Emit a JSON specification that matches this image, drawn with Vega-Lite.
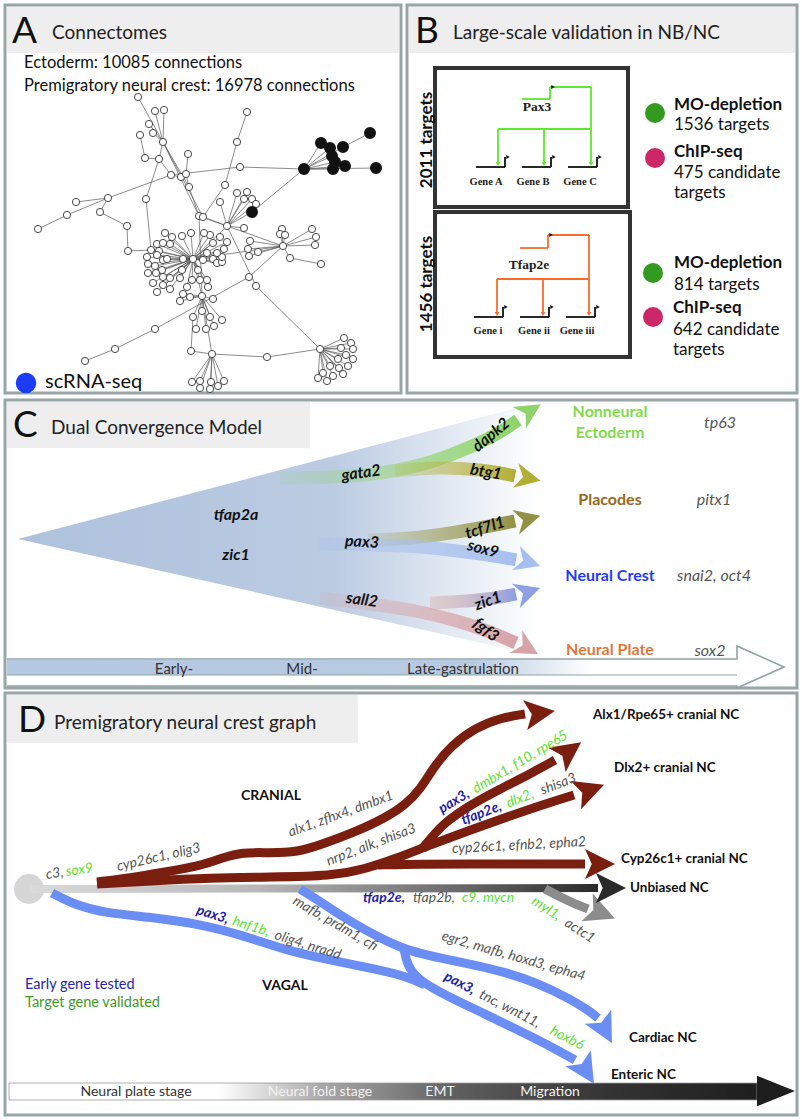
{
"$schema": "https://vega.github.io/schema/vega-lite/v6.json",
"width": 802, "height": 1120,
"autosize": {"type": "fit", "contains": "padding"},
"padding": 0,
"background": "white",
"config": {"view": {"stroke": null}, "text": {"font": "Lato"}},
"datasets": {
"panels": [{"x":5,"x2":401,"y":5,"y2":393},{"x":407,"x2":797,"y":5,"y2":393},{"x":5,"x2":797,"y":400,"y2":688},{"x":5,"x2":797,"y":693,"y2":1115}],
"bands": [{"x":7,"x2":399,"y":7,"y2":53},{"x":409,"x2":795,"y":7,"y2":53},{"x":7,"x2":310,"y":402,"y2":448},{"x":7,"x2":358,"y":695,"y2":743}],
"letters": [{"x":12,"y":43,"t":"A"},{"x":415,"y":43,"t":"B"},{"x":13,"y":437,"t":"C"},{"x":18,"y":732,"t":"D"}],
"titles": [{"x":52,"y":39,"t":"Connectomes"},{"x":453,"y":39,"t":"Large-scale validation in NB/NC"},{"x":51,"y":434,"t":"Dual Convergence Model"},{"x":54,"y":729,"t":"Premigratory neural crest graph"}],
"atext": [{"x":24,"y":68,"t":"Ectoderm: 10085 connections"},{"x":24,"y":91,"t":"Premigratory neural crest: 16978 connections"}],
"edges": [
{"x":138,"y":97,"x2":163,"y2":142},{"x":155,"y":111,"x2":163,"y2":142},{"x":164,"y":110,"x2":163,"y2":142},{"x":149,"y":124,"x2":163,"y2":142},{"x":153,"y":133,"x2":163,"y2":142},
{"x":140,"y":135,"x2":145,"y2":158},{"x":145,"y":158,"x2":159,"y2":159},{"x":159,"y":159,"x2":163,"y2":142},{"x":159,"y":159,"x2":171,"y2":175},
{"x":163,"y":142,"x2":199,"y2":216},{"x":163,"y":142,"x2":189,"y2":187},{"x":163,"y":142,"x2":203,"y2":217},
{"x":171,"y":175,"x2":181,"y2":177},{"x":181,"y":177,"x2":186,"y2":174},{"x":188,"y":154,"x2":186,"y2":174},{"x":186,"y":174,"x2":189,"y2":187},{"x":189,"y":187,"x2":199,"y2":216},
{"x":108,"y":198,"x2":171,"y2":175},{"x":67,"y":215,"x2":108,"y2":198},{"x":76,"y":202,"x2":108,"y2":198},{"x":38,"y":229,"x2":67,"y2":215},
{"x":108,"y":198,"x2":100,"y2":212},{"x":100,"y":212,"x2":127,"y2":226},{"x":127,"y":226,"x2":128,"y2":251},{"x":128,"y":251,"x2":151,"y2":250},
{"x":171,"y":175,"x2":240,"y2":167},{"x":240,"y":167,"x2":304,"y2":169},{"x":146,"y":199,"x2":159,"y2":159},{"x":146,"y":199,"x2":151,"y2":250},
{"x":247,"y":112,"x2":237,"y2":142},{"x":237,"y":142,"x2":225,"y2":185},{"x":225,"y":185,"x2":203,"y2":217},
{"x":220,"y":202,"x2":227,"y2":226},{"x":237,"y":193,"x2":227,"y2":226},{"x":247,"y":192,"x2":227,"y2":226},{"x":244,"y":199,"x2":227,"y2":226},{"x":252,"y":199,"x2":227,"y2":226},{"x":256,"y":204,"x2":227,"y2":226},
{"x":199,"y":216,"x2":227,"y2":226},{"x":203,"y":217,"x2":227,"y2":226},{"x":227,"y":226,"x2":244,"y2":228},{"x":227,"y":226,"x2":193,"y2":259},
{"x":227,"y":226,"x2":252,"y2":212},{"x":252,"y":212,"x2":304,"y2":169},{"x":227,"y":226,"x2":283,"y2":246},{"x":193,"y":259,"x2":283,"y2":246},
{"x":283,"y":246,"x2":282,"y2":229},{"x":283,"y":246,"x2":280,"y2":234},{"x":283,"y":246,"x2":285,"y2":235},{"x":283,"y":246,"x2":312,"y2":229},{"x":283,"y":246,"x2":316,"y2":237},{"x":283,"y":246,"x2":315,"y2":245},{"x":283,"y":246,"x2":250,"y2":241},{"x":283,"y":246,"x2":248,"y2":249},{"x":283,"y":246,"x2":249,"y2":256},{"x":283,"y":246,"x2":258,"y2":252},{"x":283,"y":246,"x2":290,"y2":258},
{"x":290,"y":258,"x2":321,"y2":264},{"x":227,"y":226,"x2":256,"y2":286},{"x":256,"y":286,"x2":320,"y2":349},{"x":249,"y":277,"x2":283,"y2":246},{"x":155,"y":329,"x2":249,"y2":277},{"x":115,"y":349,"x2":155,"y2":329},{"x":85,"y":361,"x2":115,"y2":349},
{"x":199,"y":216,"x2":202,"y2":296},{"x":193,"y":259,"x2":202,"y2":296},
{"x":193,"y":259,"x2":165,"y2":233},{"x":193,"y":259,"x2":172,"y2":237},{"x":193,"y":259,"x2":157,"y2":244},{"x":193,"y":259,"x2":163,"y2":243},{"x":193,"y":259,"x2":170,"y2":244},{"x":193,"y":259,"x2":151,"y2":250},{"x":193,"y":259,"x2":159,"y2":251},{"x":193,"y":259,"x2":147,"y2":257},{"x":193,"y":259,"x2":157,"y2":255},{"x":193,"y":259,"x2":163,"y2":260},{"x":193,"y":259,"x2":167,"y2":259},{"x":193,"y":259,"x2":183,"y2":259},{"x":193,"y":259,"x2":148,"y2":264},{"x":193,"y":259,"x2":155,"y2":266},{"x":193,"y":259,"x2":162,"y2":270},{"x":193,"y":259,"x2":148,"y2":273},{"x":193,"y":259,"x2":156,"y2":273},{"x":193,"y":259,"x2":163,"y2":277},{"x":193,"y":259,"x2":170,"y2":278},{"x":193,"y":259,"x2":153,"y2":283},{"x":193,"y":259,"x2":163,"y2":285},{"x":193,"y":259,"x2":157,"y2":292},{"x":193,"y":259,"x2":170,"y2":289},{"x":193,"y":259,"x2":180,"y2":278},{"x":193,"y":259,"x2":182,"y2":270},{"x":193,"y":259,"x2":187,"y2":287},{"x":193,"y":259,"x2":192,"y2":280},{"x":193,"y":259,"x2":198,"y2":270},{"x":193,"y":259,"x2":200,"y2":280},{"x":193,"y":259,"x2":207,"y2":280},{"x":193,"y":259,"x2":208,"y2":287},{"x":193,"y":259,"x2":203,"y2":260},{"x":193,"y":259,"x2":207,"y2":253},{"x":193,"y":259,"x2":213,"y2":259},{"x":193,"y":259,"x2":217,"y2":263},{"x":193,"y":259,"x2":222,"y2":262},{"x":193,"y":259,"x2":222,"y2":257},{"x":193,"y":259,"x2":217,"y2":253},{"x":193,"y":259,"x2":227,"y2":242},{"x":193,"y":259,"x2":220,"y2":237},{"x":193,"y":259,"x2":210,"y2":235},{"x":193,"y":259,"x2":213,"y2":243},{"x":193,"y":259,"x2":224,"y2":249},{"x":193,"y":259,"x2":204,"y2":233},{"x":193,"y":259,"x2":191,"y2":233},{"x":193,"y":259,"x2":182,"y2":236},
{"x":202,"y":296,"x2":180,"y2":301},{"x":202,"y":296,"x2":183,"y2":294},{"x":202,"y":296,"x2":190,"y2":297},{"x":202,"y":296,"x2":213,"y2":299},{"x":202,"y":296,"x2":202,"y2":311},{"x":202,"y":296,"x2":193,"y2":317},{"x":202,"y":296,"x2":196,"y2":329},{"x":202,"y":296,"x2":206,"y2":329},{"x":202,"y":296,"x2":214,"y2":326},{"x":202,"y":296,"x2":222,"y2":320},{"x":202,"y":296,"x2":210,"y2":317},
{"x":202,"y":296,"x2":212,"y2":354},{"x":193,"y":317,"x2":191,"y2":351},{"x":191,"y":351,"x2":212,"y2":354},
{"x":212,"y":354,"x2":192,"y2":382},{"x":212,"y":354,"x2":200,"y2":381},{"x":212,"y":354,"x2":211,"y2":382},{"x":212,"y":354,"x2":218,"y2":386},{"x":212,"y":354,"x2":224,"y2":381},{"x":212,"y":354,"x2":200,"y2":388},{"x":212,"y":354,"x2":210,"y2":389},
{"x":212,"y":354,"x2":267,"y2":357},{"x":267,"y":357,"x2":320,"y2":349},
{"x":320,"y":349,"x2":344,"y2":338},{"x":320,"y":349,"x2":351,"y2":343},{"x":320,"y":349,"x2":341,"y2":348},{"x":320,"y":349,"x2":353,"y2":349},{"x":320,"y":349,"x2":346,"y2":355},{"x":320,"y":349,"x2":353,"y2":359},{"x":320,"y":349,"x2":338,"y2":359},{"x":320,"y":349,"x2":348,"y2":366},{"x":320,"y":349,"x2":330,"y2":366},{"x":320,"y":349,"x2":339,"y2":368},{"x":320,"y":349,"x2":333,"y2":376},{"x":320,"y":349,"x2":343,"y2":374},{"x":320,"y":349,"x2":318,"y2":378},{"x":320,"y":349,"x2":327,"y2":381},{"x":320,"y":349,"x2":323,"y2":373},
{"x":304,"y":169,"x2":321,"y2":143},{"x":304,"y":169,"x2":330,"y2":148},{"x":304,"y":169,"x2":343,"y2":147},{"x":343,"y":147,"x2":370,"y2":133},{"x":304,"y":169,"x2":332,"y2":156},{"x":304,"y":169,"x2":335,"y2":162},{"x":304,"y":169,"x2":333,"y2":169},{"x":304,"y":169,"x2":345,"y2":166},{"x":304,"y":169,"x2":376,"y2":168}
],
"nodes": [
{"x":138,"y":97},{"x":155,"y":111},{"x":164,"y":110},{"x":247,"y":112},{"x":149,"y":124},{"x":153,"y":133},{"x":140,"y":135},{"x":163,"y":142},{"x":237,"y":142},{"x":188,"y":154},{"x":145,"y":158},{"x":159,"y":159},{"x":240,"y":167},{"x":171,"y":175},{"x":181,"y":177},{"x":186,"y":174},{"x":189,"y":187},{"x":225,"y":185},{"x":108,"y":198},{"x":76,"y":202},{"x":67,"y":215},{"x":38,"y":229},{"x":146,"y":199},{"x":100,"y":212},{"x":127,"y":226},{"x":128,"y":251},{"x":220,"y":202},{"x":237,"y":193},{"x":247,"y":192},{"x":244,"y":199},{"x":252,"y":199},{"x":256,"y":204},{"x":199,"y":216},{"x":203,"y":217},{"x":227,"y":226},{"x":244,"y":228},{"x":193,"y":259},{"x":282,"y":229},{"x":280,"y":234},{"x":285,"y":235},{"x":312,"y":229},{"x":316,"y":237},{"x":315,"y":245},{"x":283,"y":246},{"x":250,"y":241},{"x":248,"y":249},{"x":249,"y":256},{"x":258,"y":252},{"x":290,"y":258},{"x":321,"y":264},{"x":249,"y":277},{"x":256,"y":286},
{"x":165,"y":233},{"x":172,"y":237},{"x":157,"y":244},{"x":163,"y":243},{"x":170,"y":244},{"x":151,"y":250},{"x":159,"y":251},{"x":147,"y":257},{"x":157,"y":255},{"x":163,"y":260},{"x":167,"y":259},{"x":183,"y":259},{"x":148,"y":264},{"x":155,"y":266},{"x":162,"y":270},{"x":148,"y":273},{"x":156,"y":273},{"x":163,"y":277},{"x":170,"y":278},{"x":153,"y":283},{"x":163,"y":285},{"x":157,"y":292},{"x":170,"y":289},{"x":180,"y":278},{"x":182,"y":270},{"x":187,"y":287},{"x":192,"y":280},{"x":198,"y":270},{"x":200,"y":280},{"x":207,"y":280},{"x":208,"y":287},{"x":203,"y":260},{"x":207,"y":253},{"x":213,"y":259},{"x":217,"y":263},{"x":222,"y":262},{"x":222,"y":257},{"x":217,"y":253},{"x":227,"y":242},{"x":220,"y":237},{"x":210,"y":235},{"x":213,"y":243},{"x":224,"y":249},{"x":204,"y":233},{"x":191,"y":233},{"x":182,"y":236},
{"x":202,"y":296},{"x":180,"y":301},{"x":183,"y":294},{"x":190,"y":297},{"x":213,"y":299},{"x":202,"y":311},{"x":193,"y":317},{"x":196,"y":329},{"x":206,"y":329},{"x":214,"y":326},{"x":222,"y":320},{"x":210,"y":317},
{"x":155,"y":329},{"x":115,"y":349},{"x":85,"y":361},{"x":191,"y":351},{"x":212,"y":354},{"x":192,"y":382},{"x":200,"y":381},{"x":211,"y":382},{"x":218,"y":386},{"x":224,"y":381},{"x":200,"y":388},{"x":210,"y":389},
{"x":267,"y":357},{"x":320,"y":349},{"x":344,"y":338},{"x":351,"y":343},{"x":341,"y":348},{"x":353,"y":349},{"x":346,"y":355},{"x":353,"y":359},{"x":338,"y":359},{"x":348,"y":366},{"x":330,"y":366},{"x":339,"y":368},{"x":333,"y":376},{"x":343,"y":374},{"x":318,"y":378},{"x":327,"y":381},{"x":323,"y":373}
],
"bnodes": [{"x":304,"y":169},{"x":321,"y":143},{"x":330,"y":148},{"x":343,"y":147},{"x":370,"y":133},{"x":332,"y":156},{"x":335,"y":162},{"x":333,"y":169},{"x":345,"y":166},{"x":376,"y":168},{"x":252,"y":212}],
"scdot": [{"x":26,"y":383}],
"sctext": [{"x":45,"y":388,"t":"scRNA-seq"}],
"boxes": [{"x":435,"x2":628,"y":68,"y2":207},{"x":435,"x2":630,"y":212,"y2":357}],
"vlabels": [{"x":427,"y":140,"t":"2011 targets"},{"x":427,"y":284,"t":"1456 targets"}],
"blines": [
{"k":"pax3","x":522,"y":99,"x2":550,"y2":99},{"k":"pax3","x":550,"y":99,"x2":550,"y2":87},{"k":"pax3","x":550,"y":87,"x2":591,"y2":87},{"k":"pax3","x":591,"y":87,"x2":591,"y2":162},{"k":"pax3","x":498,"y":129,"x2":591,"y2":129},{"k":"pax3","x":498,"y":129,"x2":498,"y2":162},{"k":"pax3","x":544,"y":129,"x2":544,"y2":162},
{"k":"tfap2e","x":520,"y":248,"x2":548,"y2":248},{"k":"tfap2e","x":548,"y":248,"x2":548,"y2":235},{"k":"tfap2e","x":548,"y":235,"x2":589,"y2":235},{"k":"tfap2e","x":589,"y":235,"x2":589,"y2":312},{"k":"tfap2e","x":497,"y":279,"x2":589,"y2":279},{"k":"tfap2e","x":497,"y":279,"x2":497,"y2":312},{"k":"tfap2e","x":543,"y":279,"x2":543,"y2":312},
{"k":"gene","x":476,"y":167,"x2":505,"y2":167},{"k":"gene","x":522,"y":167,"x2":551,"y2":167},{"k":"gene","x":568,"y":167,"x2":597,"y2":167},
{"k":"gene","x":505,"y":167,"x2":505,"y2":157},{"k":"gene","x":551,"y":167,"x2":551,"y2":157},{"k":"gene","x":597,"y":167,"x2":597,"y2":157},
{"k":"gene","x":474,"y":317,"x2":503,"y2":317},{"k":"gene","x":520,"y":317,"x2":549,"y2":317},{"k":"gene","x":566,"y":317,"x2":595,"y2":317},
{"k":"gene","x":503,"y":317,"x2":503,"y2":307},{"k":"gene","x":549,"y":317,"x2":549,"y2":307},{"k":"gene","x":595,"y":317,"x2":595,"y2":307}
],
"bdown": [{"k":"pax3","x":591,"y":164},{"k":"pax3","x":498,"y":164},{"k":"pax3","x":544,"y":164},{"k":"tfap2e","x":589,"y":314},{"k":"tfap2e","x":497,"y":314},{"k":"tfap2e","x":543,"y":314}],
"bright": [{"x":508,"y":157},{"x":554,"y":157},{"x":600,"y":157},{"x":506,"y":307},{"x":552,"y":307},{"x":598,"y":307},{"x":553,"y":87},{"x":551,"y":235}],
"glabels": [{"x":486,"y":182,"t":"Gene A"},{"x":533,"y":182,"t":"Gene B"},{"x":580,"y":182,"t":"Gene C"},{"x":488,"y":331,"t":"Gene i"},{"x":534,"y":331,"t":"Gene ii"},{"x":577,"y":331,"t":"Gene iii"}],
"tflabels": [{"x":537,"y":107,"t":"Pax3"},{"x":529,"y":265,"t":"Tfap2e"}],
"bdots": [{"x":655,"y":113,"k":"MO"},{"x":655,"y":158,"k":"ChIP"},{"x":653,"y":273,"k":"MO"},{"x":653,"y":317,"k":"ChIP"}],
"bbold": [{"x":674,"y":110,"t":"MO-depletion"},{"x":674,"y":157,"t":"ChIP-seq"},{"x":674,"y":268,"t":"MO-depletion"},{"x":673,"y":313,"t":"ChIP-seq"}],
"breg": [{"x":674,"y":130,"t":"1536 targets"},{"x":674,"y":178,"t":"475  candidate"},{"x":674,"y":198,"t":"targets"},{"x":674,"y":290,"t":"814 targets"},{"x":673,"y":335,"t":"642 candidate"},{"x":673,"y":355,"t":"targets"}],
"tri": [{"x":18,"y":539,"y2":539},{"x":540,"y":402,"y2":656}],
"carr": [
{"a":"dapk2","o":1,"x":280,"y":478},{"a":"dapk2","o":2,"x":330,"y":477},{"a":"dapk2","o":3,"x":380,"y":473},{"a":"dapk2","o":4,"x":430,"y":462},{"a":"dapk2","o":5,"x":470,"y":447},{"a":"dapk2","o":6,"x":500,"y":432},{"a":"dapk2","o":7,"x":518,"y":420},
{"a":"btg1","o":1,"x":395,"y":471},{"a":"btg1","o":2,"x":440,"y":468},{"a":"btg1","o":3,"x":480,"y":470},{"a":"btg1","o":4,"x":515,"y":476},
{"a":"tcf7l1","o":1,"x":368,"y":540},{"a":"tcf7l1","o":2,"x":410,"y":538},{"a":"tcf7l1","o":3,"x":450,"y":533},{"a":"tcf7l1","o":4,"x":490,"y":526},{"a":"tcf7l1","o":5,"x":515,"y":521},
{"a":"sox9","o":1,"x":318,"y":544},{"a":"sox9","o":2,"x":370,"y":545},{"a":"sox9","o":3,"x":420,"y":547},{"a":"sox9","o":4,"x":465,"y":552},{"a":"sox9","o":5,"x":500,"y":557},{"a":"sox9","o":6,"x":516,"y":560},
{"a":"zic1","o":1,"x":430,"y":603},{"a":"zic1","o":2,"x":465,"y":601},{"a":"zic1","o":3,"x":495,"y":598},{"a":"zic1","o":4,"x":516,"y":594},
{"a":"fgf3","o":1,"x":320,"y":598},{"a":"fgf3","o":2,"x":370,"y":604},{"a":"fgf3","o":3,"x":420,"y":612},{"a":"fgf3","o":4,"x":460,"y":622},{"a":"fgf3","o":5,"x":495,"y":634},{"a":"fgf3","o":6,"x":516,"y":643}
],
"chead": [{"a":"dapk2","x":530,"y":411,"r":-32},{"a":"btg1","x":528,"y":478,"r":12},{"a":"tcf7l1","x":528,"y":519,"r":-15},{"a":"sox9","x":528,"y":562,"r":18},{"a":"zic1","x":528,"y":592,"r":-18},{"a":"fgf3","x":527,"y":648,"r":30}],
"clabels": [{"x":361,"y":473,"t":"gata2","r":-8},{"x":491,"y":435,"t":"dapk2","r":-40},{"x":486,"y":472,"t":"btg1","r":10},{"x":236,"y":515,"t":"tfap2a","r":0},{"x":236,"y":555,"t":"zic1","r":0},{"x":362,"y":542,"t":"pax3","r":3},{"x":485,"y":528,"t":"tcf7l1","r":-18},{"x":483,"y":549,"t":"sox9","r":15},{"x":362,"y":600,"t":"sall2","r":8},{"x":488,"y":601,"t":"zic1","r":-20},{"x":486,"y":630,"t":"fgf3","r":38}],
"ctypes": [{"x":610,"y":412,"t":"Nonneural","k":"nne"},{"x":610,"y":433,"t":"Ectoderm","k":"nne"},{"x":610,"y":500,"t":"Placodes","k":"pl"},{"x":610,"y":576,"t":"Neural Crest","k":"nc"},{"x":610,"y":650,"t":"Neural Plate","k":"np"}],
"cgenes": [{"x":720,"y":423,"t":"tp63"},{"x":714,"y":500,"t":"pitx1"},{"x":714,"y":576,"t":"snai2, oct4"},{"x":710,"y":651,"t":"sox2"}],
"ctlband": [{"x":7,"x2":737,"y":660,"y2":675}],
"ctlout": [{"o":1,"x":7,"y":659},{"o":2,"x":737,"y":659},{"o":3,"x":737,"y":646},{"o":4,"x":784,"y":667},{"o":5,"x":737,"y":688},{"o":6,"x":737,"y":686},{"o":7,"x":7,"y":686}],
"ctlmid": [{"x":7,"y":675,"x2":737,"y2":675}],
"ctllab": [{"x":174,"y":669,"t":"Early-"},{"x":302,"y":669,"t":"Mid-"},{"x":463,"y":669,"t":"Late-gastrulation"}],
"dnode": [{"x":29,"y":889}],
"dunb": [{"o":1,"x":30,"y":889},{"o":2,"x":598,"y":888}],
"dpaths": [
{"p":"alx","g":"cranial","o":1,"x":97,"y":882},{"p":"alx","g":"cranial","o":2,"x":130,"y":878},{"p":"alx","g":"cranial","o":3,"x":165,"y":872},{"p":"alx","g":"cranial","o":4,"x":200,"y":866},{"p":"alx","g":"cranial","o":5,"x":222,"y":858},{"p":"alx","g":"cranial","o":6,"x":242,"y":852},{"p":"alx","g":"cranial","o":7,"x":270,"y":853},{"p":"alx","g":"cranial","o":8,"x":298,"y":852},{"p":"alx","g":"cranial","o":9,"x":320,"y":845},{"p":"alx","g":"cranial","o":10,"x":355,"y":832},{"p":"alx","g":"cranial","o":11,"x":385,"y":818},{"p":"alx","g":"cranial","o":12,"x":405,"y":805},{"p":"alx","g":"cranial","o":13,"x":420,"y":790},{"p":"alx","g":"cranial","o":14,"x":435,"y":765},{"p":"alx","g":"cranial","o":15,"x":452,"y":745},{"p":"alx","g":"cranial","o":16,"x":475,"y":728},{"p":"alx","g":"cranial","o":17,"x":500,"y":718},{"p":"alx","g":"cranial","o":18,"x":525,"y":714},
{"p":"dlx","g":"cranial","o":1,"x":97,"y":884},{"p":"dlx","g":"cranial","o":2,"x":150,"y":881},{"p":"dlx","g":"cranial","o":3,"x":210,"y":878},{"p":"dlx","g":"cranial","o":4,"x":270,"y":877},{"p":"dlx","g":"cranial","o":5,"x":332,"y":876},{"p":"dlx","g":"cranial","o":6,"x":365,"y":869},{"p":"dlx","g":"cranial","o":7,"x":395,"y":859},{"p":"dlx","g":"cranial","o":8,"x":430,"y":845},{"p":"dlx","g":"cranial","o":9,"x":470,"y":830},{"p":"dlx","g":"cranial","o":10,"x":510,"y":816},{"p":"dlx","g":"cranial","o":11,"x":545,"y":804},{"p":"dlx","g":"cranial","o":12,"x":574,"y":795},
{"p":"pax","g":"cranial","o":1,"x":422,"y":849},{"p":"pax","g":"cranial","o":2,"x":432,"y":837},{"p":"pax","g":"cranial","o":3,"x":444,"y":823},{"p":"pax","g":"cranial","o":4,"x":470,"y":805},{"p":"pax","g":"cranial","o":5,"x":500,"y":789},{"p":"pax","g":"cranial","o":6,"x":530,"y":774},{"p":"pax","g":"cranial","o":7,"x":555,"y":760},
{"p":"cyp","g":"cranial","o":1,"x":378,"y":865},{"p":"cyp","g":"cranial","o":2,"x":420,"y":864},{"p":"cyp","g":"cranial","o":3,"x":470,"y":864},{"p":"cyp","g":"cranial","o":4,"x":530,"y":864},{"p":"cyp","g":"cranial","o":5,"x":585,"y":864},
{"p":"v1","g":"vagal","o":1,"x":52,"y":893},{"p":"v1","g":"vagal","o":2,"x":75,"y":905},{"p":"v1","g":"vagal","o":3,"x":105,"y":913},{"p":"v1","g":"vagal","o":4,"x":150,"y":917},{"p":"v1","g":"vagal","o":5,"x":200,"y":924},{"p":"v1","g":"vagal","o":6,"x":245,"y":936},{"p":"v1","g":"vagal","o":7,"x":285,"y":950},{"p":"v1","g":"vagal","o":8,"x":330,"y":960},{"p":"v1","g":"vagal","o":9,"x":375,"y":969},{"p":"v1","g":"vagal","o":10,"x":405,"y":976},{"p":"v1","g":"vagal","o":11,"x":425,"y":985},
{"p":"card","g":"vagal","o":1,"x":300,"y":889},{"p":"card","g":"vagal","o":2,"x":318,"y":900},{"p":"card","g":"vagal","o":3,"x":340,"y":915},{"p":"card","g":"vagal","o":4,"x":365,"y":930},{"p":"card","g":"vagal","o":5,"x":390,"y":943},{"p":"card","g":"vagal","o":6,"x":410,"y":951},{"p":"card","g":"vagal","o":7,"x":440,"y":958},{"p":"card","g":"vagal","o":8,"x":470,"y":964},{"p":"card","g":"vagal","o":9,"x":505,"y":972},{"p":"card","g":"vagal","o":10,"x":540,"y":984},{"p":"card","g":"vagal","o":11,"x":568,"y":998},{"p":"card","g":"vagal","o":12,"x":588,"y":1010},{"p":"card","g":"vagal","o":13,"x":598,"y":1018},
{"p":"ent","g":"vagal","o":1,"x":404,"y":949},{"p":"ent","g":"vagal","o":2,"x":407,"y":965},{"p":"ent","g":"vagal","o":3,"x":418,"y":980},{"p":"ent","g":"vagal","o":4,"x":445,"y":995},{"p":"ent","g":"vagal","o":5,"x":485,"y":1014},{"p":"ent","g":"vagal","o":6,"x":522,"y":1032},{"p":"ent","g":"vagal","o":7,"x":552,"y":1047},{"p":"ent","g":"vagal","o":8,"x":575,"y":1060},
{"p":"myl","g":"gray","o":1,"x":545,"y":889},{"p":"myl","g":"gray","o":2,"x":560,"y":897},{"p":"myl","g":"gray","o":3,"x":575,"y":904},{"p":"myl","g":"gray","o":4,"x":588,"y":909}
],
"dheads": [{"g":"cranial","x":540,"y":713,"r":-8},{"g":"cranial","x":569,"y":751,"r":-36},{"g":"cranial","x":590,"y":790,"r":-20},{"g":"cranial","x":600,"y":864,"r":0},{"g":"gray","x":601,"y":913,"r":22},{"g":"vagal","x":605,"y":1030,"r":62},{"g":"vagal","x":586,"y":1071,"r":58},{"g":"dark","x":611,"y":888,"r":0}],
"dlab": [
{"x":46,"y":875,"t":"c3,","r":-8,"k":"gene"},{"x":66,"y":872,"t":"sox9","r":-8,"k":"target"},
{"x":117,"y":867,"t":"cyp26c1, olig3","r":-13,"k":"gene"},
{"x":289,"y":833,"t":"alx1, zfhx4, dmbx1","r":-20,"k":"gene"},
{"x":327,"y":862,"t":"nrp2, alk, shisa3","r":-21,"k":"gene"},
{"x":474,"y":790,"t":"dmbx1, f10, rpe65","r":-31,"k":"target"},
{"x":507,"y":804,"t":"dlx2,","r":-21,"k":"target"},{"x":541,"y":791,"t":"shisa3","r":-21,"k":"gene"},
{"x":452,"y":849,"t":"cyp26c1, efnb2, epha2","r":-3,"k":"gene"},
{"x":413,"y":898,"t":"tfap2b,","r":0,"k":"gene"},{"x":462,"y":898,"t":"c9, mycn","r":0,"k":"target"},
{"x":533,"y":900,"t":"myl1,","r":33,"k":"target"},{"x":566,"y":922,"t":"actc1","r":33,"k":"gene"},
{"x":294,"y":900,"t":"mafb, prdm1, cfi","r":30,"k":"gene"},
{"x":233,"y":921,"t":"hnf1b,","r":17.6,"k":"target"},{"x":275,"y":935,"t":"olig4, nradd","r":17.6,"k":"gene"},
{"x":442,"y":936,"t":"egr2, mafb, hoxd3, epha4","r":16,"k":"gene"},
{"x":480,"y":994,"t":"tnc, wnt11,","r":27,"k":"gene"},{"x":551,"y":1030,"t":"hoxb6","r":27,"k":"target"}
],
"dearly": [{"x":440,"y":810,"t":"pax3,","r":-31},{"x":462,"y":821,"t":"tfap2e,","r":-21},{"x":363,"y":898,"t":"tfap2e,","r":0},{"x":197,"y":910,"t":"pax3,","r":17.6},{"x":445,"y":976,"t":"pax3,","r":27}],
"dtypes": [{"x":593,"y":715,"t":"Alx1/Rpe65+ cranial NC"},{"x":614,"y":768,"t":"Dlx2+ cranial NC"},{"x":621,"y":859,"t":"Cyp26c1+ cranial NC"},{"x":630,"y":888,"t":"Unbiased NC"},{"x":629,"y":1038,"t":"Cardiac NC"},{"x":611,"y":1075,"t":"Enteric NC"}],
"dgroups": [{"x":271,"y":796,"t":"CRANIAL"},{"x":285,"y":986,"t":"VAGAL"}],
"dlegend": [{"x":25,"y":985,"t":"Early gene tested","k":"early"},{"x":25,"y":1003,"t":"Target gene validated","k":"target"}],
"dtlband": [{"x":9,"x2":757,"y":1083,"y2":1100}],
"dtlhead": [{"x":776,"y":1091}],
"dtllab": [{"x":136,"y":1092,"t":"Neural plate stage","k":"dark"},{"x":320,"y":1092,"t":"Neural fold  stage","k":"light"},{"x":440,"y":1092,"t":"EMT","k":"light"},{"x":550,"y":1092,"t":"Migration","k":"light"}]
},
"encoding": {
"x": {"field": "x", "type": "quantitative", "scale": {"domain": [0, 802], "nice": false, "zero": false}, "axis": null},
"y": {"field": "y", "type": "quantitative", "scale": {"domain": [0, 1120], "reverse": true, "nice": false, "zero": false}, "axis": null}
},
"layer": [
{"data": {"name": "panels"}, "mark": {"type": "rect", "fill": "white", "stroke": "#97a5a5", "strokeWidth": 3}, "encoding": {"x2": {"field": "x2"}, "y2": {"field": "y2"}}},
{"data": {"name": "bands"}, "mark": {"type": "rect", "fill": "#eeeeee"}, "encoding": {"x2": {"field": "x2"}, "y2": {"field": "y2"}}},
{"data": {"name": "letters"}, "mark": {"type": "text", "fontSize": 37, "align": "left", "baseline": "alphabetic", "color": "#111"}, "encoding": {"text": {"field": "t"}}},
{"data": {"name": "titles"}, "mark": {"type": "text", "fontSize": 19, "align": "left", "baseline": "alphabetic", "color": "#222"}, "encoding": {"text": {"field": "t"}}},
{"data": {"name": "atext"}, "mark": {"type": "text", "fontSize": 16.5, "align": "left", "baseline": "alphabetic", "color": "#111"}, "encoding": {"text": {"field": "t"}}},
{"data": {"name": "edges"}, "mark": {"type": "rule", "color": "#5a5a5a", "strokeWidth": 0.7}, "encoding": {"x2": {"field": "x2"}, "y2": {"field": "y2"}}},
{"data": {"name": "nodes"}, "mark": {"type": "point", "shape": "circle", "size": 52, "filled": true, "fill": "white", "stroke": "#333", "strokeWidth": 0.9, "opacity": 1}},
{"data": {"name": "bnodes"}, "mark": {"type": "point", "shape": "circle", "size": 100, "filled": true, "fill": "#111", "stroke": "#111", "opacity": 1}},
{"data": {"name": "scdot"}, "mark": {"type": "point", "shape": "circle", "size": 420, "filled": true, "color": "#1b3cf2", "opacity": 1}},
{"data": {"name": "sctext"}, "mark": {"type": "text", "fontSize": 20, "align": "left", "baseline": "alphabetic", "color": "#111"}, "encoding": {"text": {"field": "t"}}},
{"data": {"name": "boxes"}, "mark": {"type": "rect", "fill": null, "fillOpacity": 0, "stroke": "#333", "strokeWidth": 4}, "encoding": {"x2": {"field": "x2"}, "y2": {"field": "y2"}}},
{"data": {"name": "vlabels"}, "mark": {"type": "text", "fontSize": 17, "fontWeight": "bold", "align": "center", "baseline": "middle", "angle": 270, "color": "#111"}, "encoding": {"text": {"field": "t"}}},
{"data": {"name": "blines"}, "mark": {"type": "rule", "strokeWidth": 1.8}, "encoding": {"x2": {"field": "x2"}, "y2": {"field": "y2"}, "color": {"field": "k", "type": "nominal", "scale": {"domain": ["pax3", "tfap2e", "gene"], "range": ["#5de82e", "#ff6a2c", "#111111"]}, "legend": null}}},
{"data": {"name": "bdown"}, "mark": {"type": "point", "shape": "triangle-down", "size": 22, "filled": true, "opacity": 1}, "encoding": {"color": {"field": "k", "type": "nominal", "scale": {"domain": ["pax3", "tfap2e"], "range": ["#5de82e", "#ff6a2c"]}, "legend": null}}},
{"data": {"name": "bright"}, "mark": {"type": "point", "shape": "triangle-right", "size": 16, "filled": true, "color": "#111", "opacity": 1}},
{"data": {"name": "glabels"}, "mark": {"type": "text", "font": "Liberation Serif", "fontWeight": "bold", "fontSize": 10.5, "align": "center", "baseline": "middle", "color": "#222"}, "encoding": {"text": {"field": "t"}}},
{"data": {"name": "tflabels"}, "mark": {"type": "text", "font": "Liberation Serif", "fontWeight": "bold", "fontSize": 13.5, "align": "center", "baseline": "middle", "color": "#222"}, "encoding": {"text": {"field": "t"}}},
{"data": {"name": "bdots"}, "mark": {"type": "point", "shape": "circle", "size": 400, "filled": true, "opacity": 1}, "encoding": {"color": {"field": "k", "type": "nominal", "scale": {"domain": ["MO", "ChIP"], "range": ["#329a1f", "#cc2767"]}, "legend": null}}},
{"data": {"name": "bbold"}, "mark": {"type": "text", "fontSize": 17, "fontWeight": "bold", "align": "left", "baseline": "alphabetic", "color": "#111"}, "encoding": {"text": {"field": "t"}}},
{"data": {"name": "breg"}, "mark": {"type": "text", "fontSize": 17, "align": "left", "baseline": "alphabetic", "color": "#111"}, "encoding": {"text": {"field": "t"}}},
{"data": {"name": "tri"}, "mark": {"type": "area", "color": {"gradient": "linear", "x1": 0, "y1": 0, "x2": 1, "y2": 0, "stops": [{"offset": 0, "color": "#afc2dc"}, {"offset": 0.6, "color": "#bacbe2"}, {"offset": 1, "color": "#ffffff"}]}}, "encoding": {"y2": {"field": "y2"}}},
{"data": {"name": "carr"}, "transform": [{"filter": "datum.a === 'dapk2'"}], "mark": {"type": "line", "interpolate": "monotone", "strokeWidth": 13, "strokeCap": "butt", "stroke": {"gradient": "linear", "x1": 0, "y1": 0, "x2": 1, "y2": 0, "stops": [{"offset": 0, "color": "rgba(143,212,107,0.1)"}, {"offset": 1, "color": "#8fd46b"}]}}, "encoding": {"order": {"field": "o", "type": "quantitative"}}},
{"data": {"name": "carr"}, "transform": [{"filter": "datum.a === 'btg1'"}], "mark": {"type": "line", "interpolate": "monotone", "strokeWidth": 13, "strokeCap": "butt", "stroke": {"gradient": "linear", "x1": 0, "y1": 0, "x2": 1, "y2": 0, "stops": [{"offset": 0, "color": "rgba(183,180,58,0.2)"}, {"offset": 1, "color": "#b3ae34"}]}}, "encoding": {"order": {"field": "o", "type": "quantitative"}}},
{"data": {"name": "carr"}, "transform": [{"filter": "datum.a === 'tcf7l1'"}], "mark": {"type": "line", "interpolate": "monotone", "strokeWidth": 13, "strokeCap": "butt", "stroke": {"gradient": "linear", "x1": 0, "y1": 0, "x2": 1, "y2": 0, "stops": [{"offset": 0, "color": "rgba(150,150,70,0.15)"}, {"offset": 1, "color": "#929244"}]}}, "encoding": {"order": {"field": "o", "type": "quantitative"}}},
{"data": {"name": "carr"}, "transform": [{"filter": "datum.a === 'sox9'"}], "mark": {"type": "line", "interpolate": "monotone", "strokeWidth": 13, "strokeCap": "butt", "stroke": {"gradient": "linear", "x1": 0, "y1": 0, "x2": 1, "y2": 0, "stops": [{"offset": 0, "color": "rgba(169,193,236,0.3)"}, {"offset": 1, "color": "#a6bfee"}]}}, "encoding": {"order": {"field": "o", "type": "quantitative"}}},
{"data": {"name": "carr"}, "transform": [{"filter": "datum.a === 'zic1'"}], "mark": {"type": "line", "interpolate": "monotone", "strokeWidth": 13, "strokeCap": "butt", "stroke": {"gradient": "linear", "x1": 0, "y1": 0, "x2": 1, "y2": 0, "stops": [{"offset": 0, "color": "rgba(220,160,140,0.3)"}, {"offset": 1, "color": "#8e9fe2"}]}}, "encoding": {"order": {"field": "o", "type": "quantitative"}}},
{"data": {"name": "carr"}, "transform": [{"filter": "datum.a === 'fgf3'"}], "mark": {"type": "line", "interpolate": "monotone", "strokeWidth": 13, "strokeCap": "butt", "stroke": {"gradient": "linear", "x1": 0, "y1": 0, "x2": 1, "y2": 0, "stops": [{"offset": 0, "color": "rgba(217,167,171,0.2)"}, {"offset": 1, "color": "#d7a3a8"}]}}, "encoding": {"order": {"field": "o", "type": "quantitative"}}},
{"data": {"name": "chead"}, "mark": {"type": "point", "shape": "M1,0L-1,-1L-0.4,0L-1,1Z", "size": 650, "filled": true, "opacity": 1}, "encoding": {"angle": {"field": "r", "type": "quantitative", "scale": null}, "color": {"field": "a", "type": "nominal", "scale": {"domain": ["dapk2", "btg1", "tcf7l1", "sox9", "zic1", "fgf3"], "range": ["#8fd46b", "#b3ae34", "#929244", "#a6bfee", "#8e9fe2", "#d7a3a8"]}, "legend": null}}},
{"data": {"name": "clabels"}, "mark": {"type": "text", "fontSize": 16, "fontWeight": "bold", "fontStyle": "italic", "align": "center", "baseline": "middle", "color": "#111"}, "encoding": {"text": {"field": "t"}, "angle": {"field": "r", "type": "quantitative", "scale": null}}},
{"data": {"name": "ctypes"}, "mark": {"type": "text", "fontSize": 16, "fontWeight": "bold", "align": "center", "baseline": "middle"}, "encoding": {"text": {"field": "t"}, "color": {"field": "k", "type": "nominal", "scale": {"domain": ["nne", "pl", "nc", "np"], "range": ["#7fdc4a", "#9a681c", "#1f3cff", "#e0773c"]}, "legend": null}}},
{"data": {"name": "cgenes"}, "mark": {"type": "text", "fontSize": 16, "fontStyle": "italic", "align": "center", "baseline": "middle", "color": "#555"}, "encoding": {"text": {"field": "t"}}},
{"data": {"name": "ctlband"}, "mark": {"type": "rect", "fill": {"gradient": "linear", "x1": 0, "y1": 0, "x2": 1, "y2": 0, "stops": [{"offset": 0, "color": "#b5c8e1"}, {"offset": 0.64, "color": "#b8cae2"}, {"offset": 0.8, "color": "#ffffff"}, {"offset": 1, "color": "#ffffff"}]}}, "encoding": {"x2": {"field": "x2"}, "y2": {"field": "y2"}}},
{"data": {"name": "ctlout"}, "mark": {"type": "line", "color": "#8fa3a3", "strokeWidth": 1.6}, "encoding": {"order": {"field": "o", "type": "quantitative"}}},
{"data": {"name": "ctlmid"}, "mark": {"type": "rule", "color": "#8fa3a3", "strokeWidth": 1.2}, "encoding": {"x2": {"field": "x2"}, "y2": {"field": "y2"}}},
{"data": {"name": "ctllab"}, "mark": {"type": "text", "fontSize": 15, "align": "center", "baseline": "middle", "color": "#333"}, "encoding": {"text": {"field": "t"}}},
{"data": {"name": "dnode"}, "mark": {"type": "point", "shape": "circle", "size": 900, "filled": true, "color": "#d6d6d6", "opacity": 1}},
{"data": {"name": "dunb"}, "mark": {"type": "line", "strokeWidth": 8, "strokeCap": "butt", "stroke": {"gradient": "linear", "x1": 0, "y1": 0, "x2": 1, "y2": 0, "stops": [{"offset": 0, "color": "#dadada"}, {"offset": 0.4, "color": "#b8b8b8"}, {"offset": 0.75, "color": "#6a6a6a"}, {"offset": 1, "color": "#2a2a2a"}]}}, "encoding": {"order": {"field": "o", "type": "quantitative"}}},
{"data": {"name": "dpaths"}, "mark": {"type": "line", "interpolate": "basis", "strokeWidth": 9, "strokeCap": "butt", "strokeJoin": "round"}, "encoding": {"order": {"field": "o", "type": "quantitative"}, "detail": {"field": "p"}, "color": {"field": "g", "type": "nominal", "scale": {"domain": ["cranial", "vagal", "gray"], "range": ["#7a1e0f", "#6b8ef4", "#8c8c8c"]}, "legend": null}}},
{"data": {"name": "dheads"}, "mark": {"type": "point", "shape": "M1,0L-1,-1L-0.55,0L-1,1Z", "size": 900, "filled": true, "opacity": 1}, "encoding": {"angle": {"field": "r", "type": "quantitative", "scale": null}, "color": {"field": "g", "type": "nominal", "scale": {"domain": ["cranial", "vagal", "gray", "dark"], "range": ["#7a1e0f", "#6b8ef4", "#8c8c8c", "#2a2a2a"]}, "legend": null}}},
{"data": {"name": "dlab"}, "mark": {"type": "text", "fontSize": 14, "fontStyle": "italic", "align": "left", "baseline": "middle"}, "encoding": {"text": {"field": "t"}, "angle": {"field": "r", "type": "quantitative", "scale": null}, "color": {"field": "k", "type": "nominal", "scale": {"domain": ["gene", "target"], "range": ["#555555", "#5ee22f"]}, "legend": null}}},
{"data": {"name": "dearly"}, "mark": {"type": "text", "fontSize": 14, "fontStyle": "italic", "fontWeight": "bold", "align": "left", "baseline": "middle", "color": "#1e20a8"}, "encoding": {"text": {"field": "t"}, "angle": {"field": "r", "type": "quantitative", "scale": null}}},
{"data": {"name": "dtypes"}, "mark": {"type": "text", "fontSize": 13.5, "fontWeight": "bold", "align": "left", "baseline": "middle", "color": "#111"}, "encoding": {"text": {"field": "t"}}},
{"data": {"name": "dgroups"}, "mark": {"type": "text", "fontSize": 14, "fontWeight": "bold", "align": "center", "baseline": "middle", "color": "#111"}, "encoding": {"text": {"field": "t"}}},
{"data": {"name": "dlegend"}, "mark": {"type": "text", "fontSize": 14.5, "align": "left", "baseline": "middle"}, "encoding": {"text": {"field": "t"}, "color": {"field": "k", "type": "nominal", "scale": {"domain": ["early", "target"], "range": ["#2325b5", "#3e9c1f"]}, "legend": null}}},
{"data": {"name": "dtlband"}, "mark": {"type": "rect", "stroke": "#9a9a9a", "strokeWidth": 0.8, "fill": {"gradient": "linear", "x1": 0, "y1": 0, "x2": 1, "y2": 0, "stops": [{"offset": 0, "color": "#ffffff"}, {"offset": 0.28, "color": "#ffffff"}, {"offset": 0.42, "color": "#a8a8a8"}, {"offset": 0.6, "color": "#5e5e5e"}, {"offset": 0.8, "color": "#343434"}, {"offset": 1, "color": "#1e1e1e"}]}}, "encoding": {"x2": {"field": "x2"}, "y2": {"field": "y2"}}},
{"data": {"name": "dtlhead"}, "mark": {"type": "point", "shape": "M1,0L-1,-0.8L-1,0.8Z", "size": 1444, "filled": true, "color": "#1e1e1e", "opacity": 1}},
{"data": {"name": "dtllab"}, "mark": {"type": "text", "fontSize": 14, "align": "center", "baseline": "middle"}, "encoding": {"text": {"field": "t"}, "color": {"field": "k", "type": "nominal", "scale": {"domain": ["dark", "light"], "range": ["#333333", "#f2f2f2"]}, "legend": null}}}
],
"resolve": {"scale": {"color": "independent", "fill": "independent", "stroke": "independent"}}
}
